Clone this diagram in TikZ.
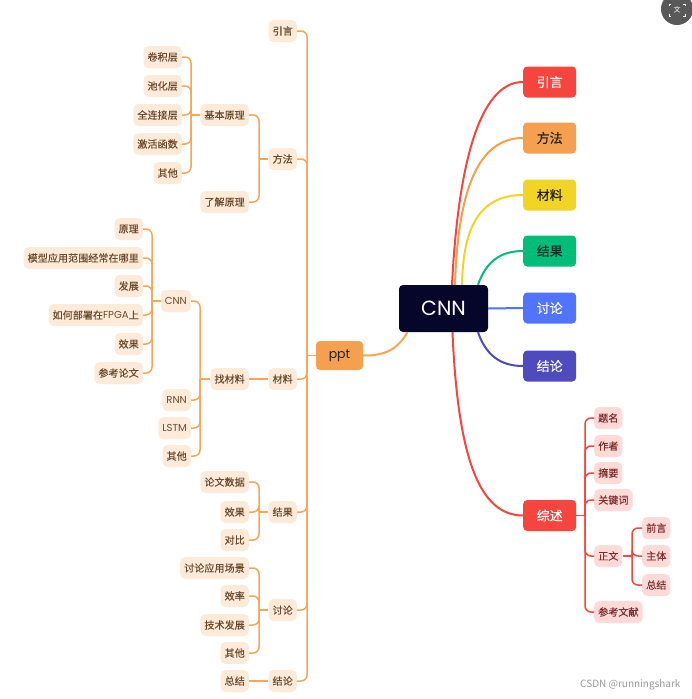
\documentclass[tikz,border=0pt]{standalone}
\usepackage{fontspec}
\setmainfont{Noto Sans CJK SC}[UprightFeatures={FakeBold=0.2}]
\newfontfamily\plainf{Noto Sans CJK SC}
\newfontfamily\lat{Poppins}
\definecolor{peach}{HTML}{FDEAD9}
\definecolor{ltext}{HTML}{6B4A2B}
\definecolor{oline}{HTML}{F8A654}
\definecolor{pptfill}{HTML}{F5A04F}
\definecolor{cnnfill}{HTML}{06062A}
\definecolor{cred}{HTML}{F6453E}
\definecolor{corange}{HTML}{F5A04F}
\definecolor{cyellow}{HTML}{F1D425}
\definecolor{cgreen}{HTML}{00BE78}
\definecolor{cblue}{HTML}{5174FF}
\definecolor{cpurple}{HTML}{4E4BBF}
\definecolor{pinkfill}{HTML}{FFDAD6}
\definecolor{ptext}{HTML}{7D2C2C}
\definecolor{dtext}{HTML}{222222}
\begin{document}
\begin{tikzpicture}[x=1pt,y=-1pt,
  lnode/.style={fill=peach,text=ltext,rounded corners=5pt,inner xsep=4pt,inner ysep=0pt,minimum height=22pt,font=\fontsize{10.1}{12}\selectfont,anchor=east},
  pnode/.style={fill=pinkfill,text=ptext,rounded corners=5pt,inner xsep=4pt,inner ysep=0pt,minimum height=22pt,font=\fontsize{10.1}{12}\selectfont,anchor=west},
  mainbox/.style={rounded corners=4pt,minimum width=53pt,minimum height=31pt,inner sep=0pt,font=\fontsize{13}{15}\selectfont,anchor=west},
  obr/.style={draw=oline,line width=1.5pt,rounded corners=6pt},
  rbr/.style={draw=cred,line width=1.5pt,rounded corners=6pt},
  curve/.style={line width=2pt}]
\useasboundingbox (0,0) rectangle (692,699);
\fill[white] (0,0) rectangle (692,699);

% bracket x positions
\coordinate (bppt) at (307,0);
\coordinate (bl2) at (259,0);
\coordinate (bl2a) at (191,0);
\coordinate (bl3a) at (200,0);
\coordinate (bl3a1) at (152,0);
\coordinate (bl4) at (259,0);
\coordinate (bl5) at (259,0);
\coordinate (br7) at (585,0);
\coordinate (br7e) at (632,0);

% ---------- left map ----------
\node[fill=pptfill,text=dtext,rounded corners=4pt,minimum width=47pt,minimum height=29pt,inner sep=0pt,font=\fontsize{12.5}{15}\lat] (ppt) at (339.5,355.5) {ppt};

\node[lnode] (l1) at (297,31) {引言};
\node[lnode] (l2) at (297,159) {方法};
\node[lnode] (l3) at (297,379) {材料};
\node[lnode] (l4) at (297,512) {结果};
\node[lnode] (l5) at (297,610) {讨论};
\node[lnode] (l6) at (297,681) {结论};

\node[lnode] (l2a) at (249,115) {基本原理};
\node[lnode] (l2b) at (249,202) {了解原理};
\node[lnode] (l2a1) at (182,57) {卷积层};
\node[lnode] (l2a2) at (182,86) {池化层};
\node[lnode] (l2a3) at (182,115) {全连接层};
\node[lnode] (l2a4) at (182,144) {激活函数};
\node[lnode] (l2a5) at (182,173) {其他};

\node[lnode] (l3a) at (249,379) {找材料};
\node[lnode] (l3a1) at (191,301) {\lat CNN};
\node[lnode] (l3a2) at (191,400) {\lat RNN};
\node[lnode] (l3a3) at (191,428) {\lat LSTM};
\node[lnode] (l3a4) at (191,456) {其他};
\node[lnode] (l3a1a) at (143,229) {原理};
\node[lnode] (l3a1b) at (143,258) {模型应用范围经常在哪里};
\node[lnode] (l3a1c) at (143,286) {发展};
\node[lnode] (l3a1d) at (143,315) {如何部署在{\lat FPGA}上};
\node[lnode] (l3a1e) at (143,344) {效果};
\node[lnode] (l3a1f) at (143,373) {参考论文};

\node[lnode] (l4a) at (249,482) {论文数据};
\node[lnode] (l4b) at (249,512) {效果};
\node[lnode] (l4c) at (249,540) {对比};

\node[lnode] (l5a) at (249,568) {讨论应用场景};
\node[lnode] (l5b) at (249,596) {效率};
\node[lnode] (l5c) at (249,625) {技术发展};
\node[lnode] (l5d) at (249,653) {其他};

\node[lnode] (l6a) at (249,681) {总结};

% connectors left
\draw[obr] (ppt.west) -- (ppt.west -| bppt);
\foreach \c in {l1,l2,l3,l4,l5,l6}
  \draw[obr] (ppt.west -| bppt) |- (\c.east);
\draw[obr] (l2.west) -- (l2.west -| bl2);
\foreach \c in {l2a,l2b}
  \draw[obr] (l2.west -| bl2) |- (\c.east);
\draw[obr] (l2a.west) -- (l2a.west -| bl2a);
\foreach \c in {l2a1,l2a2,l2a3,l2a4,l2a5}
  \draw[obr] (l2a.west -| bl2a) |- (\c.east);
\draw[obr] (l3.west) -- (l3a.east);
\draw[obr] (l3a.west) -- (l3a.west -| bl3a);
\foreach \c in {l3a1,l3a2,l3a3,l3a4}
  \draw[obr] (l3a.west -| bl3a) |- (\c.east);
\draw[obr] (l3a1.west) -- (l3a1.west -| bl3a1);
\foreach \c in {l3a1a,l3a1b,l3a1c,l3a1d,l3a1e,l3a1f}
  \draw[obr] (l3a1.west -| bl3a1) |- (\c.east);
\draw[obr] (l4.west) -- (l4.west -| bl4);
\foreach \c in {l4a,l4b,l4c}
  \draw[obr] (l4.west -| bl4) |- (\c.east);
\draw[obr] (l5.west) -- (l5.west -| bl5);
\foreach \c in {l5a,l5b,l5c,l5d}
  \draw[obr] (l5.west -| bl5) |- (\c.east);
\draw[obr] (l6.west) -- (l6a.east);

% ---------- right map ----------
\node[mainbox,fill=cred,text=white] (r1) at (523,82) {引言};
\node[mainbox,fill=corange,text=dtext] (r2) at (523,138) {方法};
\node[mainbox,fill=cyellow,text=dtext] (r3) at (523,195) {材料};
\node[mainbox,fill=cgreen,text=dtext] (r4) at (523,251) {结果};
\node[mainbox,fill=cblue,text=white] (r5) at (523,308) {讨论};
\node[mainbox,fill=cpurple,text=white] (r6) at (523,366) {结论};
\node[mainbox,fill=cred,text=white] (r7) at (523,515.5) {综述};

\node[fill=cnnfill,text=white,rounded corners=4pt,minimum width=89pt,minimum height=47pt,inner sep=0pt,font=\fontsize{20.5}{24}\lat] (cnn) at (443.5,308.5) {CNN};

\draw[curve,draw=oline] (ppt.east) .. controls (390,356) and (400,345) .. ([xshift=-36pt]cnn.south);
\draw[curve,draw=cred] ([xshift=8.5pt]cnn.north) .. controls (460,130) and (490,82) .. (r1.west);
\draw[curve,draw=corange] ([xshift=11.5pt]cnn.north) .. controls (458,190) and (478,138) .. (r2.west);
\draw[curve,draw=cyellow] ([xshift=18.5pt]cnn.north) .. controls (463,235) and (475,195) .. (r3.west);
\draw[curve,draw=cgreen] ([xshift=34.5pt]cnn.north) .. controls (486,262) and (500,251) .. (r4.west);
\draw[curve,draw=cblue] (cnn.east) -- (r5.west);
\draw[curve,draw=cpurple] ([xshift=34.5pt]cnn.south) .. controls (486,355) and (500,366) .. (r6.west);
\draw[curve,draw=cred] ([xshift=9pt]cnn.south) .. controls (458,460) and (480,515.5) .. (r7.west);

\node[pnode] (r7a) at (594,418) {题名};
\node[pnode] (r7b) at (594,446) {作者};
\node[pnode] (r7c) at (594,473) {摘要};
\node[pnode] (r7d) at (594,500) {关键词};
\node[pnode] (r7e) at (594,556) {正文};
\node[pnode] (r7f) at (594,612) {参考文献};
\node[pnode] (r7e1) at (642,528) {前言};
\node[pnode] (r7e2) at (642,556) {主体};
\node[pnode] (r7e3) at (642,585) {总结};

\draw[rbr] (r7.east) -- (r7.east -| br7);
\foreach \c in {r7a,r7b,r7c,r7d,r7e,r7f}
  \draw[rbr] (r7.east -| br7) |- (\c.west);
\draw[rbr] (r7e.east) -- (r7e.east -| br7e);
\foreach \c in {r7e1,r7e2,r7e3}
  \draw[rbr] (r7e.east -| br7e) |- (\c.west);

% watermark and overlay icon
\node[text=black!40,font=\fontsize{10}{12}\plainf,anchor=east] (wm) at (684,685) {CSDN @runningshark};
\fill[black!65] (677,9) circle (16);
\draw[white,line width=1pt] (671,4) -- (669,4) -- (669,6) (683,4) -- (685,4) -- (685,6)
  (669,14) -- (669,16) -- (671,16) (685,14) -- (685,16) -- (683,16);
\node[text=white,font=\fontsize{7}{8}\plainf] (ic) at (677,10) {文};
\end{tikzpicture}
\end{document}
